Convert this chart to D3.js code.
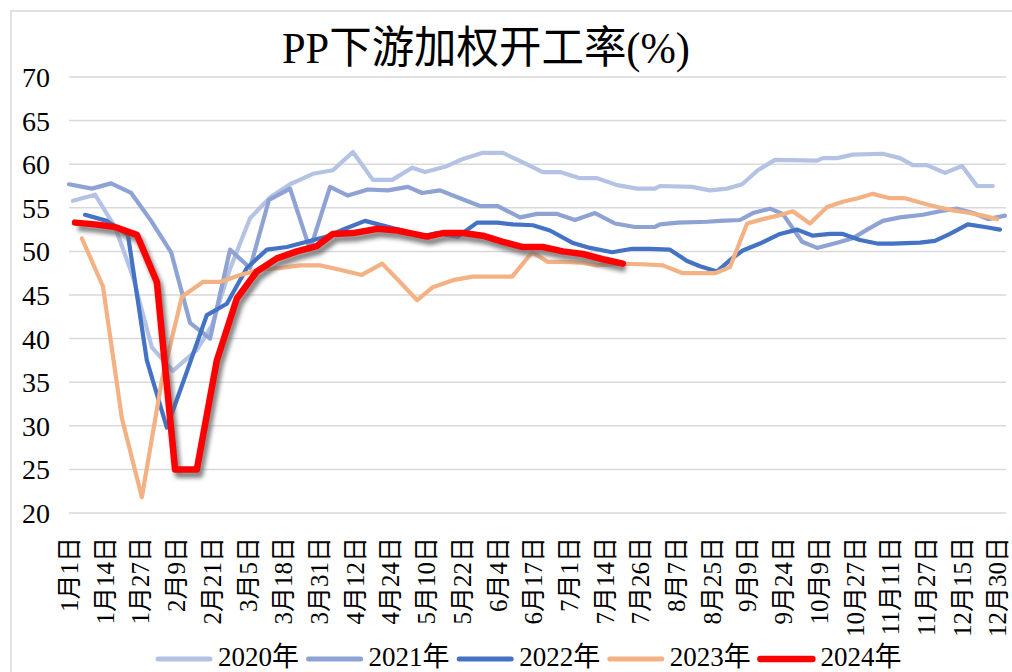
<!DOCTYPE html>
<html>
<head>
<meta charset="utf-8">
<script src="https://cdn.jsdelivr.net/npm/d3@7"></script>
<style>
  html, body { margin: 0; padding: 0; background: #fff; }
  svg { display: block; }
  text { font-family: "Liberation Serif", "Noto Sans CJK SC", serif; fill: #000; }
</style>
</head>
<body>
<svg id="chart" width="1012" height="672"></svg>
<script>
// ---------- DATA ----------
const title = "PP下游加权开工率(%)";
const xLabels = ["1月1日","1月14日","1月27日","2月9日","2月21日","3月5日","3月18日","3月31日","4月12日","4月24日",
  "5月10日","5月22日","6月4日","6月17日","7月1日","7月14日","7月26日","8月7日","8月25日","9月9日",
  "9月24日","10月9日","10月27日","11月11日","11月27日","12月15日","12月30日"];
const yTicks = [20, 25, 30, 35, 40, 45, 50, 55, 60, 65, 70];
const seriesNames = ["2020年", "2021年", "2022年", "2023年", "2024年"];

// positions are category positions measured in x-label slots
const pos2020 = [0.11,0.73,1.29,1.79,2.32,2.91,3.58,4.00,4.51,5.07,5.63,6.19,6.83,7.39,7.95,8.51,9.05,9.61,9.97,10.53,
  11.03,11.59,12.15,12.71,13.27,13.75,14.31,14.79,15.35,15.91,16.41,16.55,17.45,17.95,18.43,18.85,19.29,19.77,20.95,21.11,
  21.51,21.95,22.79,23.27,23.63,24.03,24.53,25.01,25.43,25.87];
const val2020 = [55.8,56.5,52.8,47.1,39.0,36.3,38.7,41.5,48.0,53.8,56.2,57.7,58.9,59.3,61.4,58.2,58.2,59.6,59.1,59.7,
  60.6,61.3,61.3,60.2,59.1,59.1,58.4,58.4,57.6,57.2,57.2,57.5,57.4,57.0,57.2,57.7,59.3,60.5,60.4,60.7,
  60.7,61.1,61.2,60.7,59.9,59.9,59.0,59.8,57.5,57.5];

const pos2021 = [0.00,0.64,1.18,1.74,2.30,2.86,3.39,3.95,4.51,5.07,5.60,6.19,6.75,7.31,7.81,8.37,8.93,9.49,9.89,10.39,
  10.95,11.51,12.01,12.63,13.11,13.67,14.17,14.73,15.29,15.85,16.41,16.55,17.05,17.87,18.23,18.79,19.15,19.63,19.99,20.53,
  20.95,21.51,21.95,22.35,22.79,23.27,23.91,24.39,24.87,25.32,25.74,26.21];
const val2021 = [57.7,57.2,57.8,56.7,53.5,49.9,41.8,40.0,50.2,48.1,55.9,57.2,50.2,57.4,56.4,57.1,57.0,57.4,56.7,57.0,
  56.1,55.2,55.2,53.9,54.3,54.3,53.6,54.4,53.2,52.8,52.8,53.1,53.3,53.4,53.5,53.6,54.4,54.9,54.3,51.1,
  50.4,51.0,51.5,52.5,53.5,53.9,54.2,54.6,54.9,54.4,53.7,54.1];

const pos2022 = [0.45,1.06,1.65,2.18,2.74,3.30,3.86,4.42,4.98,5.54,6.10,6.66,7.22,7.73,8.29,8.85,9.41,9.97,10.31,10.89,
  11.43,11.99,12.43,12.99,13.47,14.09,14.59,15.21,15.77,16.27,16.83,17.31,17.67,18.15,18.57,18.87,19.35,19.91,20.39,20.83,
  21.31,21.67,22.15,22.63,23.07,23.83,24.25,24.67,25.17,25.65,26.07];
const val2022 = [54.2,53.5,51.9,37.5,29.8,36.2,42.7,44.0,48.1,50.2,50.5,51.1,51.7,52.6,53.5,52.9,52.3,51.8,52.1,51.7,
  53.3,53.3,53.1,53.0,52.4,51.0,50.4,49.9,50.3,50.3,50.2,48.9,48.3,47.7,49.2,50.1,50.9,52.0,52.5,51.8,
  52.0,52.0,51.3,50.9,50.9,51.0,51.2,52.0,53.1,52.8,52.5];

const pos2023 = [0.36,0.95,1.48,2.04,2.60,3.16,3.75,4.23,4.79,5.35,5.91,6.47,7.03,7.59,8.20,8.77,9.27,9.75,10.19,10.75,
  11.31,11.87,12.41,12.97,13.41,13.83,14.39,14.79,15.43,16.19,16.63,17.19,18.09,18.51,18.99,19.43,19.85,20.27,20.75,21.23,
  21.67,22.09,22.51,22.99,23.41,23.83,24.31,24.75,25.23,25.59,25.99];
const val2023 = [51.5,46.0,30.9,21.8,35.2,44.8,46.5,46.5,47.3,47.9,48.1,48.4,48.4,47.9,47.3,48.6,46.5,44.4,45.9,46.7,
  47.1,47.1,47.1,49.9,48.8,48.8,48.7,48.4,48.6,48.5,48.4,47.5,47.5,48.2,53.2,53.7,54.1,54.6,53.2,55.1,
  55.7,56.1,56.6,56.1,56.1,55.6,55.1,54.7,54.4,54.1,53.7];

const pos2024 = [0.17,0.73,1.29,1.90,2.46,2.97,3.58,4.14,4.70,5.26,5.82,6.38,6.94,7.39,7.95,8.65,9.19,9.55,10.03,10.47,
  11.03,11.59,12.15,12.71,13.27,13.83,14.39,14.95,15.51];
const val2024 = [53.3,53.1,52.8,51.9,46.5,25.0,25.0,37.5,44.6,47.7,49.2,50.0,50.6,52.0,52.1,52.6,52.4,52.1,51.7,52.1,
  52.1,51.8,51.1,50.5,50.5,50.0,49.7,49.1,48.6];

const colors = ["#B4C3E4", "#8FA2D4", "#4472C4", "#F4B183", "#FF0000"];

// ---------- CHART ----------
const svg = d3.select("#chart");
const W = 1012, H = 672;
const plot = { left: 69, right: 1006, top: 77, bottom: 513 };

svg.append("rect").attr("width", W).attr("height", H).attr("fill", "#fff");
// outer chart border
svg.append("rect").attr("x", 11).attr("y", 11).attr("width", 1200).attr("height", 1200)
  .attr("fill", "none").attr("stroke", "#D9D9D9").attr("stroke-width", 1.5);

const defs = svg.append("defs");
const f = defs.append("filter").attr("id", "shadow").attr("filterUnits", "userSpaceOnUse")
  .attr("x", 0).attr("y", 0).attr("width", W).attr("height", H);
f.append("feGaussianBlur").attr("stdDeviation", 2.2);
const glow = defs.append("filter").attr("id", "soft").attr("filterUnits", "userSpaceOnUse")
  .attr("x", 0).attr("y", 0).attr("width", W).attr("height", H);
glow.append("feGaussianBlur").attr("stdDeviation", 0.6);

const x = d3.scaleLinear().domain([0, 26.24]).range([plot.left, plot.right]);
const y = d3.scaleLinear().domain([20, 70]).range([plot.bottom, plot.top]);

// gridlines
svg.append("g").selectAll("line").data(yTicks).join("line")
  .attr("x1", plot.left).attr("x2", plot.right)
  .attr("y1", d => y(d)).attr("y2", d => y(d))
  .attr("stroke", "#D9D9D9").attr("stroke-width", 1.5);

// y axis labels
const yAxis = d3.axisLeft(y).tickValues(yTicks).tickSize(0).tickPadding(0);
const yg = svg.append("g").attr("transform", `translate(50,0)`).call(yAxis);
yg.select(".domain").remove();
yg.selectAll("text").attr("font-size", 28).attr("dy", null).attr("dominant-baseline", "central")
  .style("font-family", '"Liberation Serif", serif').attr("x", 0);

// x axis labels
const xAxis = d3.axisBottom(x).tickValues(d3.range(xLabels.length)).tickFormat(i => xLabels[i]).tickSize(0);
const xg = svg.append("g").attr("transform", `translate(0,${plot.bottom})`).call(xAxis);
xg.select(".domain").remove();
xg.selectAll("text")
  .attr("font-size", 25)
  .attr("text-anchor", "end")
  .attr("dominant-baseline", "central")
  .attr("dy", null)
  .attr("y", 0)
  .attr("transform", "translate(0,24) rotate(-90)");

// lines
const allSeries = [
  { pos: pos2020, val: val2020 },
  { pos: pos2021, val: val2021 },
  { pos: pos2022, val: val2022 },
  { pos: pos2023, val: val2023 },
  { pos: pos2024, val: val2024 }
].map((s, i) => ({ name: seriesNames[i], color: colors[i], pts: s.pos.map((p, j) => [p, s.val[j]]) }));

const line = d3.line().x(d => x(d[0])).y(d => y(d[1]));
const lg = svg.append("g");
allSeries.slice(0, 4).forEach(s => {
  lg.append("path").attr("d", line(s.pts)).attr("fill", "none")
    .attr("stroke", s.color).attr("stroke-width", 4.2)
    .attr("stroke-linejoin", "round").attr("stroke-linecap", "round");
});
const red = allSeries[4];
lg.append("path").attr("d", line(red.pts)).attr("fill", "none")
  .attr("stroke", "#666").attr("stroke-opacity", 0.8).attr("stroke-width", 7)
  .attr("stroke-linejoin", "round").attr("transform", "translate(3,5)")
  .attr("filter", "url(#shadow)");
lg.append("path").attr("d", line(red.pts)).attr("fill", "none")
  .attr("stroke", red.color).attr("stroke-width", 6.5)
  .attr("stroke-linejoin", "round").attr("stroke-linecap", "round")
  .attr("filter", "url(#soft)");

// title
svg.append("text").attr("x", 486).attr("y", 63).attr("text-anchor", "middle")
  .attr("font-size", 44).attr("textLength", 408).attr("lengthAdjust", "spacingAndGlyphs")
  .text(title);

// legend
const leg = svg.append("g");
allSeries.forEach((s, i) => {
  const lx = 158 + i * 150.6;
  const ly = 659;
  leg.append("line").attr("x1", lx).attr("x2", lx + 52).attr("y1", ly).attr("y2", ly)
    .attr("stroke", s.color).attr("stroke-width", i === 4 ? 6.5 : 5).attr("stroke-linecap", "round")
    .attr("filter", i === 4 ? "url(#soft)" : null);
  leg.append("text").attr("x", lx + 60).attr("y", 666).attr("font-size", 27).text(s.name);
});
</script>
</body>
</html>
